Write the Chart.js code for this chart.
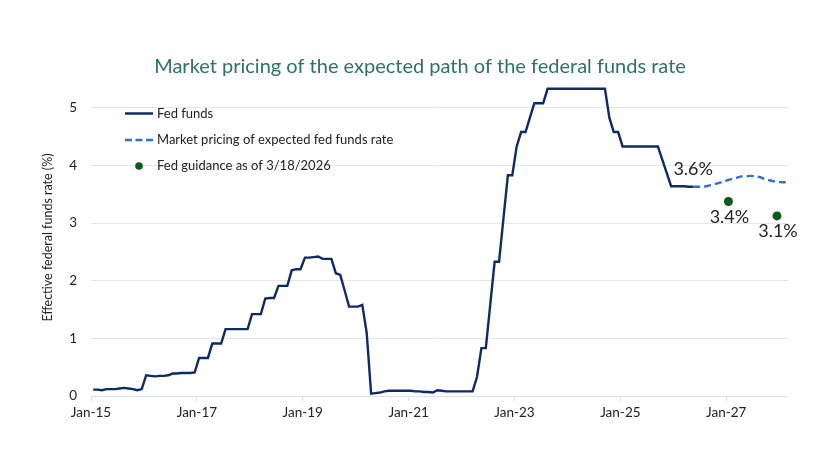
<!DOCTYPE html>
<html><head><meta charset="utf-8">
<script src="https://cdn.jsdelivr.net/npm/chart.js@4.4.1/dist/chart.umd.min.js"></script>
<style>html,body{margin:0;padding:0;background:#fff;} #wrap{width:840px;height:472px;}</style>
</head><body><div id="wrap"><canvas id="c" width="840" height="472"></canvas></div>
<script>
const chartTitle = "Market pricing of the expected path of the federal funds rate";
const yAxisTitle = "Effective federal funds rate (%)";
const seriesNames = ["Fed funds", "Market pricing of expected fed funds rate", "Fed guidance as of 3/18/2026"];
const monthNames = ["Jan","Feb","Mar","Apr","May","Jun","Jul","Aug","Sep","Oct","Nov","Dec"];
const firstYear = 2015;
const monthCount = 159; // Jan-15 .. Mar-28
const months = [];
for (let i = 0; i < monthCount; i++) {
  months.push(monthNames[i % 12] + "-" + String((firstYear + Math.floor(i / 12)) % 100).padStart(2, "0"));
}
const tickLabels = ["Jan-15","Jan-17","Jan-19","Jan-21","Jan-23","Jan-25","Jan-27"];
const yTicks = [0, 1, 2, 3, 4, 5];

// Fed funds, monthly from Jan-15 to May-26
const fedFunds = [
  0.11,0.11,0.10,0.12,0.12,0.12,0.13,0.14,0.13,0.12,0.10,0.12, // 2015
  0.36,0.35,0.34,0.35,0.35,0.36,0.39,0.39,0.40,0.40,0.40,0.41, // 2016
  0.66,0.66,0.66,0.91,0.91,0.91,1.16,1.16,1.16,1.16,1.16,1.16, // 2017
  1.42,1.42,1.42,1.69,1.70,1.70,1.91,1.91,1.91,2.18,2.20,2.20, // 2018
  2.40,2.40,2.41,2.42,2.38,2.38,2.38,2.13,2.10,1.83,1.55,1.55, // 2019
  1.55,1.58,1.09,0.04,0.05,0.06,0.08,0.09,0.09,0.09,0.09,0.09, // 2020
  0.09,0.08,0.08,0.07,0.07,0.06,0.10,0.09,0.08,0.08,0.08,0.08, // 2021
  0.08,0.08,0.08,0.33,0.83,0.83,1.58,2.33,2.33,3.08,3.83,3.83, // 2022
  4.33,4.58,4.58,4.83,5.08,5.08,5.08,5.33,5.33,5.33,5.33,5.33, // 2023
  5.33,5.33,5.33,5.33,5.33,5.33,5.33,5.33,5.33,4.83,4.58,4.58, // 2024
  4.33,4.33,4.33,4.33,4.33,4.33,4.33,4.33,4.33,4.10,3.87,3.64, // 2025
  3.64,3.64,3.64,3.63,3.63                                     // 2026
];
// Market pricing, monthly from May-26 to Feb-28
const pricingStart = "May-26";
const marketPricing = [3.63,3.63,3.63,3.64,3.66,3.68,3.70,3.72,3.75,3.77,3.79,3.81,3.81,3.82,3.81,3.80,3.77,3.75,3.73,3.72,3.71,3.71];
const guidanceMonths = ["Jan-27","Dec-27"];
const guidanceValues = [3.375, 3.125];
const guidanceLabels = ["3.4%","3.1%"];
const currentLabel = "3.6%";

const NAVY = "#0f2a6b", BLUE = "#2f6fd8", GREEN = "#0b5c17";
const midMonth = (label) => months.indexOf(label) + 0.5;

const fedPts = fedFunds.map((v, i) => ({x: i + 0.5, y: v}));
const p0 = months.indexOf(pricingStart);
const pricePts = marketPricing.map((v, i) => ({x: p0 + i + 0.5, y: v}));
const guidePts = guidanceMonths.map((m, i) => ({x: midMonth(m), y: guidanceValues[i]}));

Chart.defaults.font.family = "Lato, 'Open Sans', sans-serif";
Chart.defaults.color = "#222";

const legendPlugin = {
  id: "customLegend",
  afterDraw(chart) {
    const ctx = chart.ctx, ca = chart.chartArea;
    const x0 = ca.left + 34, x1 = ca.left + 62, tx = ca.left + 66;
    const rows = [ca.top + 34.5, ca.top + 61, ca.top + 87];
    ctx.save();
    ctx.font = "13px Lato, 'Open Sans', sans-serif";
    ctx.textBaseline = "middle";
    ctx.textAlign = "left";
    ctx.fillStyle = "#222";
    ctx.lineWidth = 2.5; ctx.strokeStyle = NAVY; ctx.setLineDash([]);
    ctx.beginPath(); ctx.moveTo(x0, rows[0]); ctx.lineTo(x1, rows[0]); ctx.stroke();
    ctx.strokeStyle = BLUE; ctx.setLineDash([7, 3.5]);
    ctx.beginPath(); ctx.moveTo(x0, rows[1]); ctx.lineTo(x1, rows[1]); ctx.stroke();
    ctx.setLineDash([]);
    ctx.fillStyle = GREEN;
    ctx.beginPath(); ctx.arc((x0 + x1) / 2, rows[2], 3.8, 0, Math.PI * 2); ctx.fill();
    ctx.fillStyle = "#222";
    seriesNames.forEach((n, i) => ctx.fillText(n, tx, rows[i]));
    ctx.restore();
  }
};

const labelPlugin = {
  id: "pointLabels",
  afterDatasetsDraw(chart) {
    const ctx = chart.ctx;
    ctx.save();
    ctx.font = "18px Lato, 'Open Sans', sans-serif";
    ctx.fillStyle = "#222";
    ctx.textAlign = "center";
    ctx.textBaseline = "middle";
    const fm = chart.getDatasetMeta(0).data;
    const last = fm[fm.length - 1];
    ctx.fillText(currentLabel, last.x, last.y - 18);
    const gm = chart.getDatasetMeta(2).data;
    gm.forEach((pt, i) => ctx.fillText(guidanceLabels[i], pt.x + 1, pt.y + 15.5));
    ctx.restore();
  }
};

new Chart(document.getElementById("c"), {
  type: "line",
  data: {
    datasets: [
      {label: seriesNames[0], data: fedPts, borderColor: NAVY, borderWidth: 2.4, pointRadius: 0, tension: 0, fill: false},
      {label: seriesNames[1], data: pricePts, borderColor: BLUE, borderWidth: 2.4, borderDash: [7, 4], pointRadius: 0, tension: 0.3, fill: false},
      {label: seriesNames[2], data: guidePts, showLine: false, pointRadius: 4.5, pointBackgroundColor: GREEN, pointBorderWidth: 0, borderColor: GREEN}
    ]
  },
  options: {
    responsive: false,
    animation: false,
    layout: {padding: {left: 0, right: 0, top: 0, bottom: 0}},
    plugins: {
      legend: {display: false},
      tooltip: {enabled: false},
      title: {
        display: true, text: chartTitle, color: "#2c7363",
        font: {size: 20, weight: "normal", family: "Lato, 'Open Sans', sans-serif"},
        padding: {top: 55, bottom: 0}
      }
    },
    scales: {
      x: {
        type: "linear", min: 0, max: monthCount - 1,
        afterBuildTicks: (s) => { s.ticks = tickLabels.map(l => ({value: months.indexOf(l)})); },
        ticks: {callback: (v) => months[v], color: "#222", font: {size: 13.5}, padding: 4, maxRotation: 0, autoSkip: false},
        grid: {drawOnChartArea: false, drawTicks: true, tickLength: 5, color: "#dfe2ec"},
        border: {display: true, color: "#dfe2ec", width: 1},
        afterFit: (s) => { s.height = 76; }
      },
      y: {
        type: "linear", min: 0, max: 5.5,
        afterBuildTicks: (s) => { s.ticks = yTicks.map(v => ({value: v})); },
        ticks: {color: "#222", font: {size: 13.5}, padding: 14},
        grid: {color: "#e6e6e6", drawTicks: false, lineWidth: 1},
        border: {display: false},
        title: {display: true, text: yAxisTitle, color: "#222", font: {size: 12.5}, padding: {top: 40, bottom: 0}},
        afterFit: (s) => { s.width = 91; }
      },
      yRight: {
        type: "linear", position: "right", display: true, min: 0, max: 5.5,
        grid: {display: false, drawOnChartArea: false}, border: {display: false},
        ticks: {display: false},
        afterFit: (s) => { s.width = 52; }
      }
    }
  },
  plugins: [legendPlugin, labelPlugin]
});
</script></body></html>
